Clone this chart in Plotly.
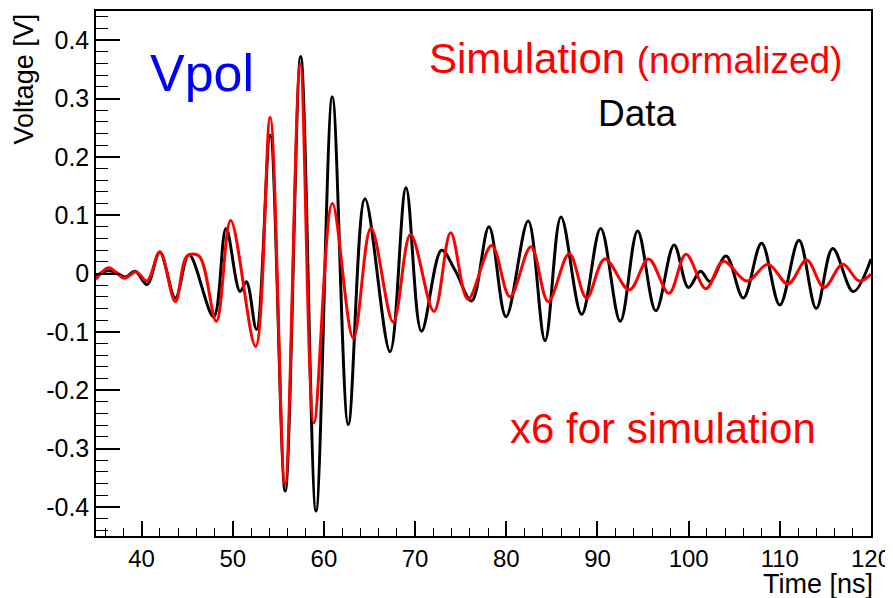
import plotly.graph_objects as go

# -----------------------------
# waveform values (time in ns, voltage in V)
# -----------------------------
data_t = [35.0, 36.0, 37.0, 38.2, 39.3, 40.6, 42.0, 43.7, 45.2, 47.9, 49.26,
          50.8, 51.5, 52.6, 54.1, 55.75, 57.45, 59.13, 60.92, 62.67, 64.5,
          67.25, 69.0, 70.7, 72.9, 74.4, 76.2, 78.1, 79.97, 82.4, 84.25,
          86.0, 88.27, 90.35, 92.5, 94.4, 96.4, 98.4, 99.97, 101.3, 102.35,
          104.1, 106.0, 108.0, 110.0, 112.1, 114.0, 115.8, 118.05, 120.0]
data_v = [-0.005, 0.004, 0.003, -0.006, 0.004, -0.019, 0.037, -0.042, 0.032, -0.074, 0.077,
          -0.031, -0.014, -0.096, 0.237, -0.373, 0.372, -0.407, 0.303, -0.259, 0.128,
          -0.134, 0.147, -0.099, 0.040, 0.005, -0.047, 0.080, -0.074, 0.090, -0.115,
          0.097, -0.070, 0.077, -0.082, 0.073, -0.064, 0.049, -0.024, 0.004, -0.014,
          0.030, -0.042, 0.052, -0.054, 0.057, -0.060, 0.043, -0.031, 0.025]

sim_t = [35.0, 36.4, 38.1, 39.4, 40.6, 42.0, 43.7, 45.0, 46.3, 48.2, 49.77,
         52.5, 54.1, 55.73, 57.4, 58.9, 60.92, 63.22, 65.16, 67.6, 69.5,
         72.07, 73.9, 75.8, 78.4, 80.4, 82.7, 84.6, 86.9, 88.8, 90.8,
         93.5, 95.6, 97.85, 99.7, 101.9, 103.8, 106.4, 108.7, 110.9, 112.95,
         114.85, 116.9, 118.7, 120.0]
sim_v = [-0.010, 0.010, -0.008, 0.003, -0.013, 0.037, -0.048, 0.030, 0.030, -0.082, 0.091,
         -0.125, 0.268, -0.361, 0.359, -0.256, 0.120, -0.111, 0.078, -0.083, 0.067,
         -0.065, 0.070, -0.044, 0.048, -0.040, 0.046, -0.048, 0.034, -0.042, 0.025,
         -0.028, 0.025, -0.034, 0.033, -0.026, 0.021, -0.013, 0.016, -0.018, 0.023,
         -0.024, 0.016, -0.013, -0.001]

y_ticks = [-0.4, -0.3, -0.2, -0.1, 0, 0.1, 0.2, 0.3, 0.4]
y_ticktext = ["-0.4", "-0.3", "-0.2", "-0.1", "0", "0.1", "0.2", "0.3", "0.4"]

FONT = "Liberation Sans, Arial, Helvetica, sans-serif"

fig = go.Figure()
fig.add_trace(go.Scatter(x=data_t, y=data_v, mode="lines", name="Data",
                         line=dict(color="black", width=3, shape="spline", smoothing=1.0)))
fig.add_trace(go.Scatter(x=sim_t, y=sim_v, mode="lines", name="Simulation",
                         line=dict(color="#ff0000", width=3, shape="spline", smoothing=1.0)))

# the page body adds an 8px margin, so the figure is 8px smaller on each side
fig.update_layout(
    width=885, height=590,
    margin=dict(l=88, r=22, t=1, b=62, pad=0),
    paper_bgcolor="white", plot_bgcolor="white",
    showlegend=False,
    font=dict(family=FONT, color="black"),
)

fig.update_xaxes(
    range=[35, 120], showgrid=False, zeroline=False,
    showline=True, linecolor="black", linewidth=1.5, mirror=True,
    ticks="inside", tick0=0, dtick=10, ticklen=15, tickwidth=1.5, tickcolor="black",
    minor=dict(ticks="inside", dtick=2, tick0=0, ticklen=8, tickwidth=1, tickcolor="black"),
    tickfont=dict(size=24, family=FONT),
)
fig.update_yaxes(
    range=[-0.45, 0.45], showgrid=False, zeroline=False,
    showline=True, linecolor="black", linewidth=1.5, mirror=True,
    ticks="inside", tickvals=y_ticks, ticktext=y_ticktext,
    ticklen=24, tickwidth=1.5, tickcolor="black",
    minor=dict(ticks="inside", dtick=0.02, tick0=0, ticklen=12, tickwidth=1, tickcolor="black"),
    tickfont=dict(size=25, family=FONT),
)

# texts
fig.add_annotation(text="Voltage [V]", xref="paper", yref="paper", x=-0.093, y=1.0,
                   xanchor="center", yanchor="top", textangle=-90, showarrow=False,
                   font=dict(size=27, color="black"))
fig.add_annotation(text="Time [ns]", xref="paper", yref="paper", x=1.004, y=-0.1225,
                   xanchor="right", yanchor="bottom", showarrow=False, borderpad=0,
                   font=dict(size=27, color="black"))
fig.add_annotation(text="Vpol", xref="paper", yref="paper", x=0.1364, y=0.8826,
                   xanchor="center", yanchor="middle", showarrow=False,
                   font=dict(size=52, color="#0000ff"))
fig.add_annotation(text="Simulation <span style='font-size:37px'>(normalized)</span>",
                   xref="paper", yref="paper", x=0.4265, y=0.909,
                   xanchor="left", yanchor="middle", showarrow=False,
                   font=dict(size=42, color="#ff0000"))
fig.add_annotation(text="Data", xref="paper", yref="paper", x=0.6985, y=0.8051,
                   xanchor="center", yanchor="middle", showarrow=False,
                   font=dict(size=37, color="black"))
fig.add_annotation(text="x6 for simulation", xref="paper", yref="paper", x=0.7316, y=0.205,
                   xanchor="center", yanchor="middle", showarrow=False,
                   font=dict(size=42, color="#ff0000"))

fig.write_html("out.html")
